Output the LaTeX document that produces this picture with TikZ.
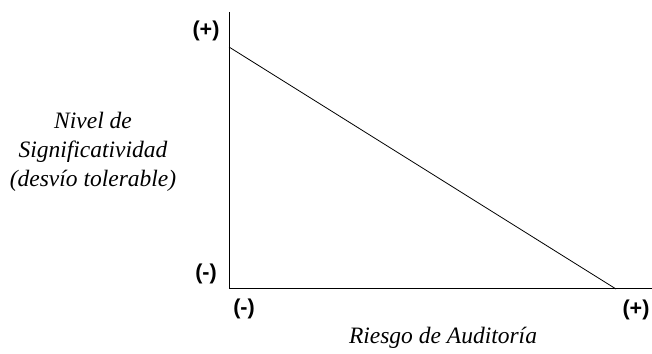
\documentclass[tikz,border=0pt]{standalone}
\usepackage{fontspec}
\setmainfont{Liberation Serif}
\newfontfamily\signfont{Liberation Sans}
\tikzset{
  signo/.style={font=\signfont\bfseries\fontsize{21.5}{25}\selectfont},
  rotulo/.style={font=\itshape\fontsize{23.5}{29}\selectfont, align=center},
  eje/.style={line width=1pt, black}
}
\begin{document}
\begin{tikzpicture}[x=1pt,y=1pt]
                \useasboundingbox (0,0) rectangle (652,353);
                \coordinate (O) at (229,64);
                \coordinate (T) at (229,341);
                \coordinate (R) at (652,64);
                \coordinate (A) at (229,306);
                \coordinate (B) at (616,64);
                \draw[eje] (T) -- (O) -- (R);
                \draw[line width=0.8pt] (A) -- (B);
                \node[signo] (ymas) at (206,322) {(+)};
                \node[signo] (ymenos) at (206,79) {(-)};
                \node[signo] (xmenos) at (244,44) {(-)};
                \node[signo] (xmas) at (636,43) {(+)};
                \node[rotulo] (nivel) at (93,201) {Nivel de\\Significatividad\\(desvío tolerable)};
                \node[rotulo] (riesgo) at (443,15) {Riesgo de Auditoría};
\end{tikzpicture}
\end{document}
